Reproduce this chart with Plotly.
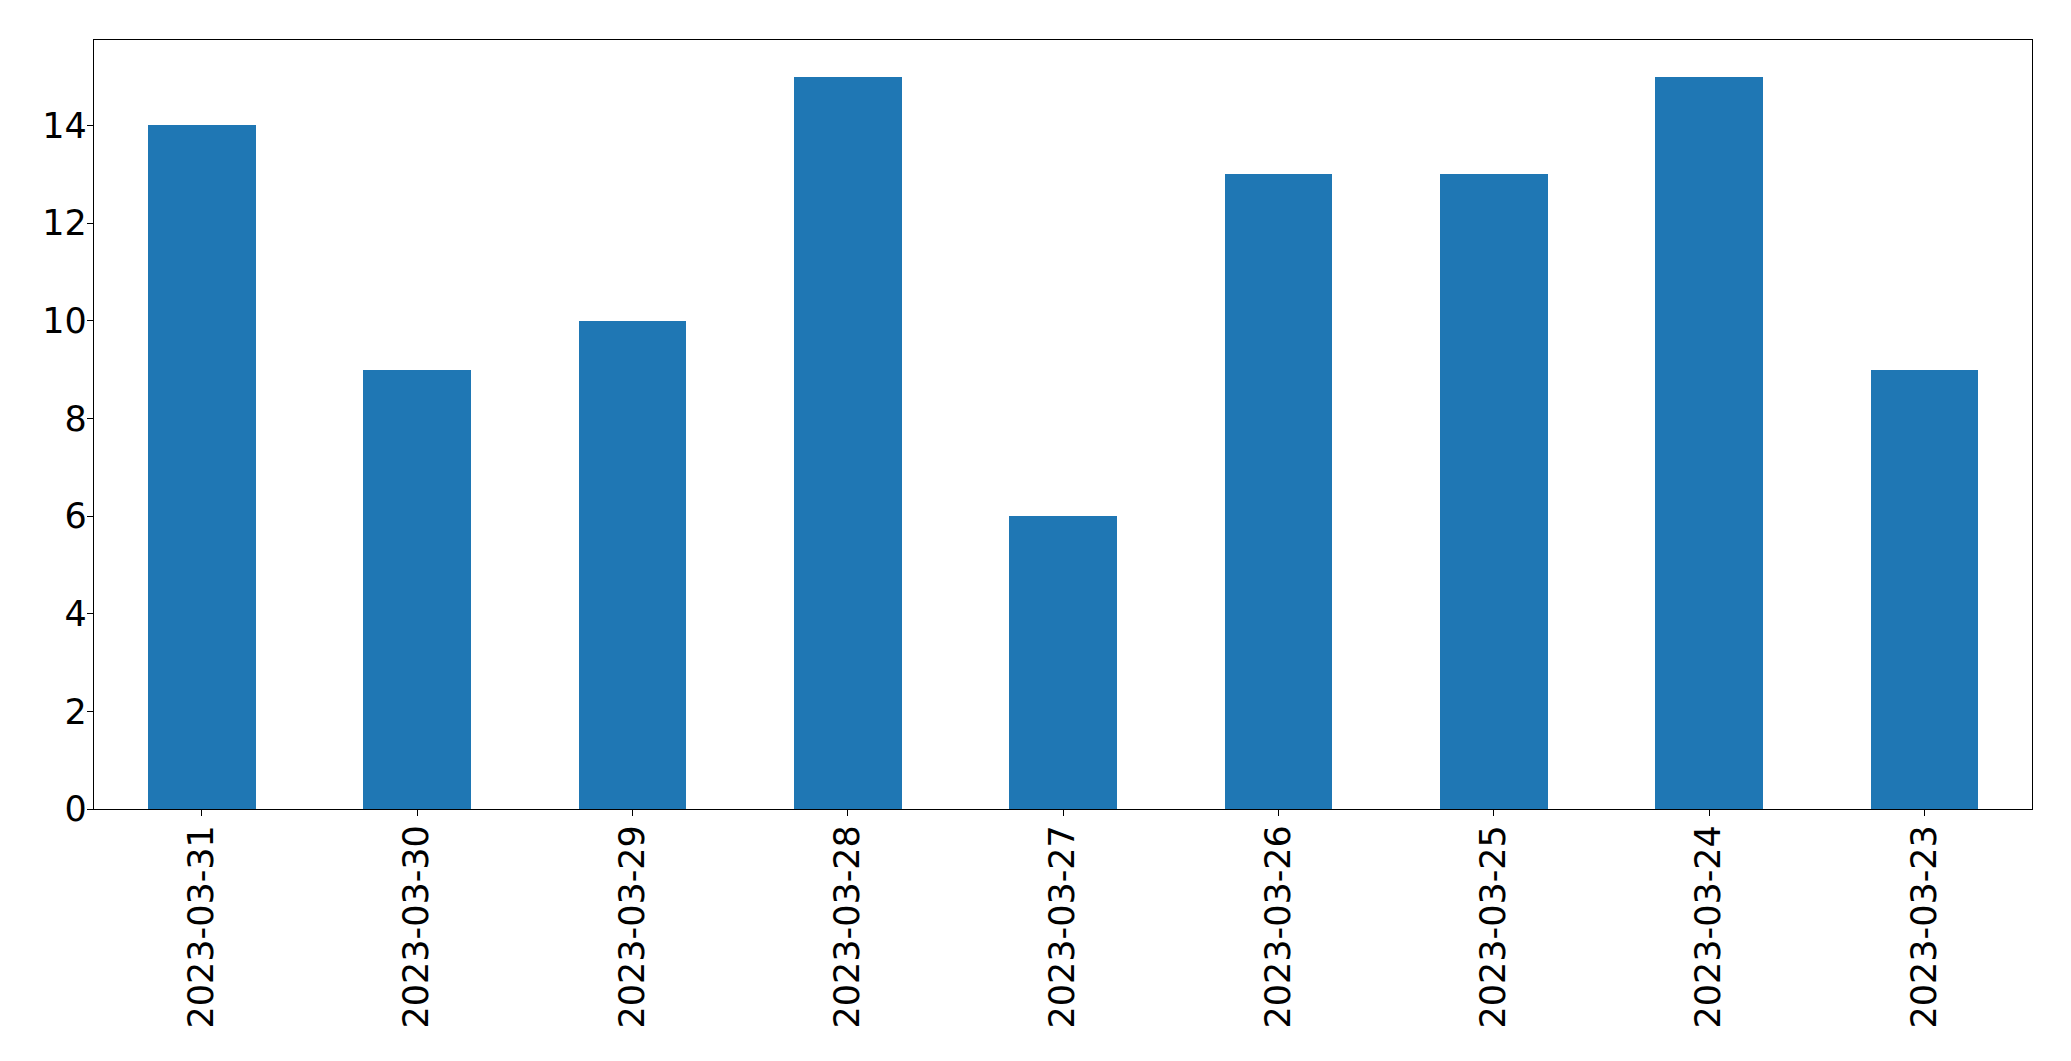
import plotly.graph_objects as go

dates = ["2023-03-31", "2023-03-30", "2023-03-29", "2023-03-28", "2023-03-27",
         "2023-03-26", "2023-03-25", "2023-03-24", "2023-03-23"]
counts = [14, 9, 10, 15, 6, 13, 13, 15, 9]
y_ticks = [0, 2, 4, 6, 8, 10, 12, 14]

fig = go.Figure(go.Bar(x=dates, y=counts, width=0.5, marker=dict(color="#1f77b4", line=dict(width=0))))

# page body has an 8px margin; size the figure so the plot area lands where the reference has it
fig.update_layout(
    width=2063, height=1053,
    margin=dict(l=86, r=39, t=32, b=252),
    paper_bgcolor="white", plot_bgcolor="white",
    font=dict(family="DejaVu Sans", size=35, color="black"),
    showlegend=False,
    bargap=0,
)
fig.update_xaxes(
    type="category", range=[-0.5, 8.5], tickangle=-90,
    showline=True, linecolor="black", linewidth=1.3, mirror=True,
    ticks="outside", ticklen=6, tickwidth=1.3, tickcolor="black",
    ticklabelstandoff=-5,
    showgrid=False, zeroline=False,
)
fig.update_yaxes(
    range=[0, 15.75], tickvals=y_ticks,
    showline=True, linecolor="black", linewidth=1.3, mirror=True,
    ticks="outside", ticklen=6, tickwidth=1.3, tickcolor="black",
    ticklabelstandoff=-7,
    showgrid=False, zeroline=False,
)
fig.write_html("out.html")
